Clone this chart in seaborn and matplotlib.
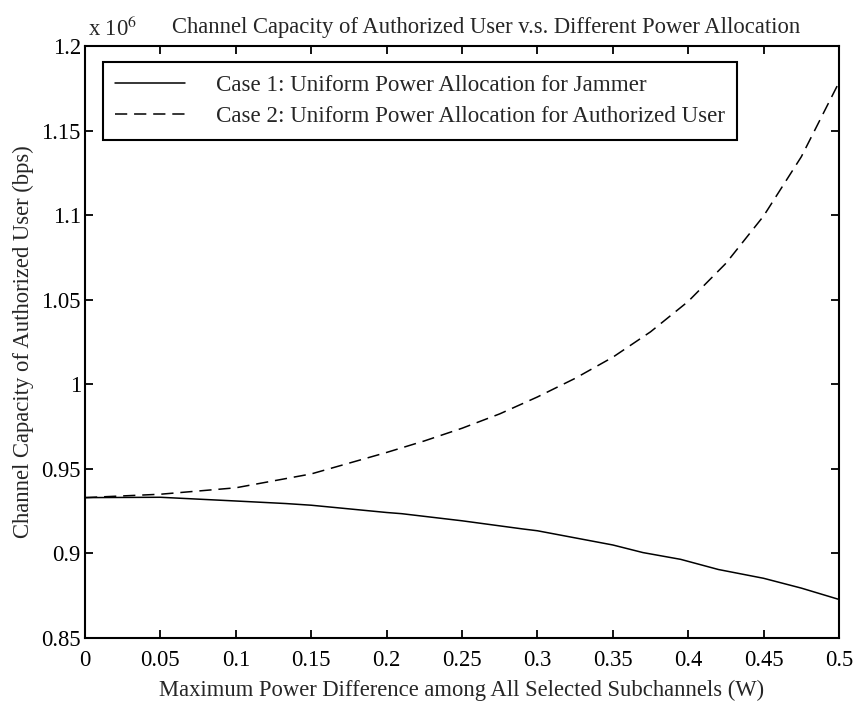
import matplotlib
matplotlib.use("Agg")
import matplotlib.pyplot as plt
import seaborn as sns
import pandas as pd

# Data (capacity in units of 1e6 bps)
x_case1 = [0.0, 0.05, 0.10, 0.133, 0.15, 0.20, 0.21, 0.25, 0.29, 0.30, 0.35, 0.37, 0.395, 0.42, 0.45, 0.475, 0.50]
y_case1 = [0.9330, 0.9332, 0.9310, 0.9295, 0.9285, 0.9242, 0.9235, 0.9193, 0.9145, 0.9134, 0.9050, 0.9005, 0.8965, 0.8905, 0.8853, 0.8795, 0.8728]

x_case2 = [0.0, 0.05, 0.10, 0.15, 0.20, 0.225, 0.25, 0.275, 0.30, 0.325, 0.35, 0.375, 0.40, 0.425, 0.45, 0.475, 0.50]
y_case2 = [0.9330, 0.9350, 0.9388, 0.9470, 0.9597, 0.9665, 0.9740, 0.9825, 0.9925, 1.0035, 1.0160, 1.0310, 1.0490, 1.0715, 1.0995, 1.1345, 1.1785]

label1 = "Case 1: Uniform Power Allocation for Jammer"
label2 = "Case 2: Uniform Power Allocation for Authorized User"
title = "Channel Capacity of Authorized User v.s. Different Power Allocation"
xlabel = "Maximum Power Difference among All Selected Subchannels (W)"
ylabel = "Channel Capacity of Authorized User (bps)"
xticks = [0, 0.05, 0.1, 0.15, 0.2, 0.25, 0.3, 0.35, 0.4, 0.45, 0.5]
xticklabels = ["0", "0.05", "0.1", "0.15", "0.2", "0.25", "0.3", "0.35", "0.4", "0.45", "0.5"]
yticks = [0.85, 0.9, 0.95, 1.0, 1.05, 1.1, 1.15, 1.2]
yticklabels = ["0.85", "0.9", "0.95", "1", "1.05", "1.1", "1.15", "1.2"]

FS = 16.3

sns.set_theme(style="ticks")
plt.rcParams['font.family'] = ['Liberation Serif', 'DejaVu Serif']
plt.rcParams['mathtext.fontset'] = 'stix'

df1 = pd.DataFrame({"x": x_case1, "y": y_case1})
df2 = pd.DataFrame({"x": x_case2, "y": y_case2})

fig = plt.figure(figsize=(8.6, 7.02), dpi=100)
ax = fig.add_axes([85/860, 1-638/702, (839-85)/860, (638-46)/702])

sns.lineplot(data=df1, x="x", y="y", ax=ax, color="black", lw=1.1, label=label1, sort=False)
sns.lineplot(data=df2, x="x", y="y", ax=ax, color="black", lw=1.1,
             linestyle=(0, (8.0, 4.5)), label=label2, sort=False)

ax.set_xlim(0, 0.5)
ax.set_ylim(0.85, 1.2)
ax.set_xticks(xticks)
ax.set_xticklabels(xticklabels)
ax.set_yticks(yticks)
ax.set_yticklabels(yticklabels)
ax.tick_params(direction="in", length=6, width=1.3, top=True, right=True,
               labelsize=FS, colors="black")
ax.tick_params(axis="x", pad=9)
ax.tick_params(axis="y", pad=3)
for s in ax.spines.values():
    s.set_linewidth(1.5)
    s.set_color("black")
    s.set_visible(True)

ax.set_xlabel(xlabel, fontsize=FS, labelpad=6)
ax.set_ylabel(ylabel, fontsize=FS, labelpad=5)
ax.set_title(title, fontsize=FS, pad=9, x=0.532)
ax.text(0.004, 1.008, r"x 10$^{6}$", transform=ax.transAxes, fontsize=FS,
        ha="left", va="bottom")

leg = ax.legend(loc="upper left", bbox_to_anchor=(0.0235, 0.973), borderaxespad=0,
                fontsize=16.6, frameon=True, fancybox=False, handlelength=3.0,
                handletextpad=1.35, labelspacing=0.45, borderpad=0.55)
leg.get_frame().set_edgecolor("black")
leg.get_frame().set_linewidth(1.5)
leg.get_frame().set_alpha(1)

fig.savefig("out.png", dpi=100)
